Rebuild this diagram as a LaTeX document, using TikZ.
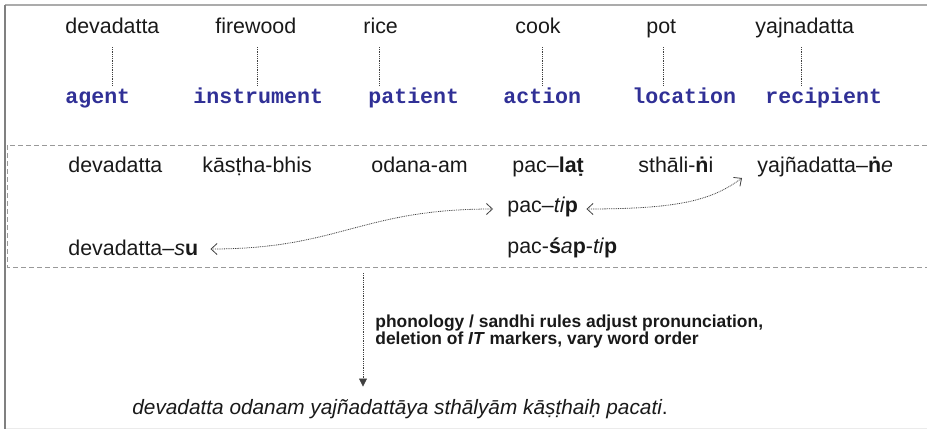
\documentclass[tikz,border=0pt]{standalone}
\usepackage{fontspec}
\setmainfont{Liberation Sans}
\newfontfamily\rolefont{Liberation Mono}
\usetikzlibrary{arrows.meta,calc}
\definecolor{roleblue}{RGB}{48,48,150}
\definecolor{txt}{RGB}{25,25,25}
\begin{document}
\begin{tikzpicture}[x=0.5pt,y=-0.5pt,
  word/.style={anchor=base west,inner sep=0,text=txt,font=\fontsize{10.7}{12}\selectfont},
  role/.style={anchor=base west,inner sep=0,text=roleblue,font=\rolefont\bfseries\fontsize{10.8}{12}\selectfont},
  note/.style={anchor=north west,inner sep=0,text=txt,align=left,font=\bfseries\fontsize{8.7}{8.5}\selectfont},
  dotline/.style={draw=black!75,line width=0.4pt,dash pattern=on 0.45pt off 0.45pt},
  link/.style={dotline,{Straight Barb[length=3pt,width=5.5pt]}-{Straight Barb[length=3pt,width=5.5pt]}},
  down/.style={dotline,-{Triangle[length=4pt,width=4pt]}},
  hang/.style={dotline}]
\useasboundingbox (0,0) rectangle (927,429);
% frame
\draw[black!8,line width=0.5pt] (5,428) -- (927,428);
\draw[black!33,line width=1pt] (5,5) -- (927,5);
\draw[black!50,line width=1pt] (5,5) -- (5,429);
% dashed band
\draw[black!40,line width=0.5pt,dash pattern=on 2.5pt off 1.5pt] (927,145) -- (7,145) -- (7,267) -- (927,267);
% top words
\node[word] (w1) at (65,33) {devadatta};
\node[word] (w2) at (215,33) {firewood};
\node[word] (w3) at (363,33) {rice};
\node[word] (w4) at (515,33) {cook};
\node[word] (w5) at (646,33) {pot};
\node[word] (w6) at (755,33) {yajnadatta};
% roles
\node[role] (r1) at (65,103) {agent};
\node[role] (r2) at (193,103) {instrument};
\node[role] (r3) at (368,103) {patient};
\node[role] (r4) at (503,103) {action};
\node[role] (r5) at (632,103) {location};
\node[role] (r6) at (765,103) {recipient};
% hanging dotted lines
\coordinate (h1) at (112,47);
\coordinate (h2) at (257,47);
\coordinate (h3) at (379,47);
\coordinate (h4) at (542,47);
\coordinate (h5) at (663,47);
\coordinate (h6) at (801,47);
\foreach \i in {1,...,6}{\draw[hang] (h\i) -- (h\i |- 0,85);}
% middle rows
\node[word] (m1) at (68,172) {devadatta};
\node[word] (m2) at (202,172) {kāsṭha-bhis};
\node[word] (m3) at (371,172) {odana-am};
\node[word] (m4) at (512,172) {pac–\textbf{laṭ}};
\node[word] (m5) at (638,172) {sthāli-\textbf{ṅ}i};
\node[word] (ne) at (757,172) {yajñadatta–\textbf{ṅ}\textit{e}};
\node[word] (tip) at (507,212) {pac–\textit{ti}\textbf{p}};
\node[word] (sap) at (507,253) {pac-\textbf{ś}\textit{a}\textbf{p}-\textit{ti}\textbf{p}};
\node[word] (su) at (68,255) {devadatta–\textit{s}\textbf{u}};
% links
\draw[link] ([xshift=6pt,yshift=3pt]su.base east) .. controls (340,249) and (360,209) .. ([xshift=-7pt,yshift=1.5pt]tip.base west);
\draw[link] ([xshift=4pt,yshift=1.5pt]tip.base east) .. controls (680,209) and (712,200) .. ([xshift=-7.5pt,yshift=-3pt]ne.base west);
% note and final sentence
\node[note] (ph) at (375,314) {phonology / sandhi rules adjust pronunciation,\\deletion of \textit{IT} markers, vary word order};
\node[word,font=\fontsize{10.4}{12}\selectfont] (fin) at (132,414) {\textit{devadatta odanam yajñadattāya sthālyām kāṣṭhaiḥ pacati}.};
\coordinate (vtop) at (363,273);
\draw[down,shorten >=6pt] (vtop) -- (vtop |- fin.north);
\end{tikzpicture}
\end{document}
